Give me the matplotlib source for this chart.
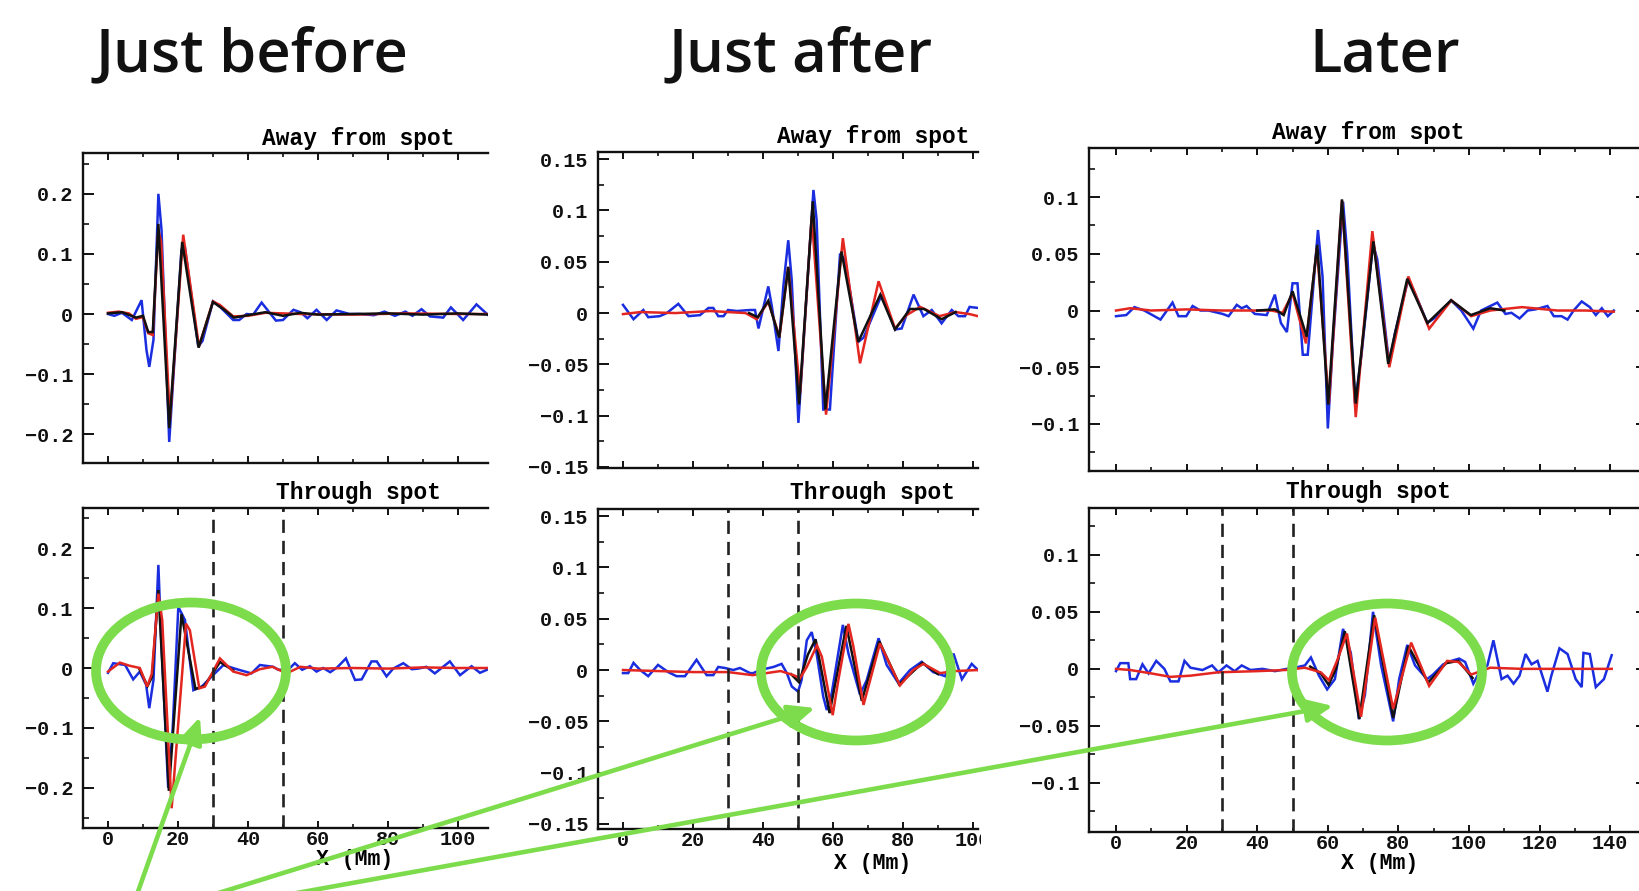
import matplotlib
matplotlib.use("Agg")
import matplotlib.pyplot as plt
from matplotlib.patches import Ellipse, Rectangle, FancyArrowPatch
from matplotlib.ticker import MultipleLocator

# ------------------------------------------------------------------ data
column_titles = ["Just before", "Just after", "Later"]
row_titles = ["Away from spot", "Through spot"]
x_label = "X (Mm)"
x_ticks_short = [0, 20, 40, 60, 80, 100]
x_tick_labels_short = ["0", "20", "40", "60", "80", "100"]
x_ticks_long = [0, 20, 40, 60, 80, 100, 120, 140]
x_tick_labels_long = ["0", "20", "40", "60", "80", "100", "120", "140"]
y_ticks_1 = [-0.2, -0.1, 0, 0.1, 0.2]
y_tick_labels_1 = ["\u22120.2", "\u22120.1", "0", "0.1", "0.2"]
y_ticks_2 = [-0.15, -0.1, -0.05, 0, 0.05, 0.1, 0.15]
y_tick_labels_2 = ["\u22120.15", "\u22120.1", "\u22120.05", "0", "0.05", "0.1", "0.15"]
y_ticks_3 = [-0.1, -0.05, 0, 0.05, 0.1]
y_tick_labels_3 = ["\u22120.1", "\u22120.05", "0", "0.05", "0.1"]
spot_edges = [30, 50]

# Panel 1 (just before), away from spot
p1a_blue_x = [0, 1.8, 4, 6.8, 9.6, 11.0, 11.8, 13.0, 14.4, 15.3, 17.5, 21.0, 22.0, 25.8, 27, 30.0, 32, 35.8,
              37.5, 39.6, 41.5, 43.9, 48.0, 50, 53.0, 55, 57.0, 59.6, 62.5, 65.3, 69.0, 72, 76, 79.0, 82,
              85.0, 87, 89.6, 92, 95.8, 98.0, 101.5, 105.3, 108.7]
p1a_blue_y = [0, -0.003, 0.002, -0.010, 0.023, -0.060, -0.088, -0.043, 0.200, 0.140, -0.213, 0.107, 0.110,
              -0.054, -0.045, 0.021, 0.012, -0.010, -0.010, 0.000, -0.001, 0.019, -0.011, -0.010, 0.007,
              0.003, -0.007, 0.007, -0.010, 0.006, 0.000, 0.000, -0.002, 0.004, -0.003, 0.004, -0.003,
              0.008, -0.004, -0.006, 0.011, -0.010, 0.016, -0.002]
p1a_red_x = [0, 3, 6, 8, 10, 11.5, 12.8, 14.4, 15.2, 17.7, 21.5, 26.0, 30.0, 32.0, 35.8, 40, 45, 55, 70,
             85, 100, 108.7]
p1a_red_y = [0.002, 0.004, 0.001, -0.008, -0.005, -0.032, -0.035, 0.140, 0.120, -0.177, 0.132, -0.054,
             0.021, 0.015, -0.004, -0.003, 0.002, 0.000, -0.001, 0.001, 0.000, 0.000]
p1a_black_x = [0, 4, 8, 10, 11.5, 12.8, 14.4, 17.5, 21.2, 25.9, 30, 33, 36, 40, 45, 50, 55, 60, 70, 80,
               90, 100, 108.7]
p1a_black_y = [0.001, 0.003, -0.006, -0.003, -0.030, -0.030, 0.150, -0.190, 0.120, -0.056, 0.020, 0.008,
               -0.006, -0.002, 0.003, -0.003, 0.002, -0.001, 0.000, 0.001, -0.001, 0.001, -0.001]

# Panel 1 (just before), through spot
p1b_blue_x = [0, 1.5, 4.9, 7.2, 9.1, 10.9, 11.8, 13.0, 14.4, 15.2, 17.2, 18.5, 20.1, 22.0, 24.4, 26.8,
              30.0, 33.0, 36.8, 41.0, 43.4, 47.2, 48.7, 51.5, 53.4, 55.5, 57.7, 59.6, 61.5, 63.5, 65.5,
              68.0, 70.6, 72.5, 75.3, 76.8, 79.6, 81.5, 84.4, 86.8, 88.7, 91.0, 93.4, 97.7, 100.6, 103.9,
              106.3, 108.7]
p1b_blue_y = [-0.008, 0.008, 0.005, -0.019, -0.006, -0.028, -0.067, -0.020, 0.172, 0.050, -0.200, -0.100,
              0.102, 0.080, -0.037, -0.031, -0.012, 0.005, -0.002, -0.009, 0.005, 0.002, -0.003, -0.003,
              0.008, -0.003, 0.003, -0.006, 0.000, -0.007, 0.001, 0.016, -0.020, -0.019, 0.011, 0.011,
              -0.014, -0.001, 0.008, -0.002, -0.001, 0.002, -0.009, 0.011, -0.012, 0.003, -0.008, -0.002]
p1b_red_x = [0, 3.4, 6, 9.1, 11.2, 12.5, 14.4, 15.5, 18.2, 22.3, 23.4, 26.1, 27.7, 30.0, 32.0, 35.8, 39.6,
             43.4, 47, 51, 55, 60, 70, 80, 90, 100, 108.7]
p1b_red_y = [-0.006, 0.009, 0.004, 0.000, -0.031, -0.010, 0.124, 0.080, -0.234, 0.074, 0.063, -0.034,
             -0.031, -0.006, 0.016, -0.006, -0.012, -0.002, 0.002, -0.009, 0.002, -0.001, 0.000, -0.001,
             0.001, 0.000, 0.000]
p1b_black_x = [9, 11.3, 12.6, 14.4, 17.4, 21, 25, 27.5, 30, 32, 35.8]
p1b_black_y = [-0.002, -0.030, -0.015, 0.130, -0.205, 0.090, -0.035, -0.030, -0.008, 0.010, -0.004]

# Panel 2 (just after), away from spot
p2a_blue_x = [0, 3, 5.8, 7.2, 10.5, 12.5, 15.8, 18.7, 22, 24.4, 25.8, 27.2, 28.7, 30.0, 32.5, 36.3, 37.7,
              38.7, 41.5, 42.5, 44.4, 45.8, 47.2, 48.2, 50.1, 52, 54.4, 55.3, 57.2, 59.1, 62.0, 63.4, 67.2,
              68.7, 73.9, 77.7, 79.6, 83.0, 85.8, 88.2, 91.0, 93.9, 95.8, 97.7, 99.0, 101.4]
p2a_blue_y = [0.008, -0.006, 0.003, -0.004, -0.003, 0.000, 0.009, -0.003, -0.002, 0.005, 0.005, -0.003,
              -0.003, 0.003, 0.002, 0.003, 0.003, -0.015, 0.026, 0.007, -0.037, 0.026, 0.071, 0.032, -0.107,
              -0.006, 0.120, 0.091, -0.094, -0.094, 0.058, 0.052, -0.028, -0.024, 0.018, -0.016, -0.015,
              0.018, -0.003, 0.003, -0.010, 0.003, -0.003, -0.003, 0.006, 0.005]
p2a_red_x = [0, 5, 15, 25, 30, 35, 38.2, 41.5, 44.7, 47.2, 50.6, 53.9, 58.0, 62.8, 67.7, 73.0, 77.7, 81,
             84.9, 90.4, 95, 99, 101.4]
p2a_red_y = [-0.001, 0.001, 0.000, 0.002, 0.001, 0.000, -0.006, 0.011, -0.023, 0.045, -0.078, 0.094,
             -0.099, 0.073, -0.049, 0.031, -0.015, -0.002, 0.006, -0.003, 0.001, -0.001, -0.003]
p2a_black_x = [36, 38.5, 41.5, 44.6, 47.2, 50.3, 54.2, 57.8, 62.4, 67.2, 73.5, 77.7, 82, 86, 91, 95]
p2a_black_y = [0.000, -0.004, 0.012, -0.024, 0.045, -0.089, 0.109, -0.094, 0.060, -0.028, 0.018, -0.016,
               0.004, 0.004, -0.006, 0.001]

# Panel 2 (just after), through spot
p2b_blue_x = [0, 1.5, 3, 4.9, 7.2, 10, 12.9, 15.3, 17.7, 21, 23.9, 25.8, 27.2, 29.1, 31.5, 33.4, 36.3, 37.2,
              39.1, 43.0, 45.3, 46.8, 48.2, 50.0, 51.0, 52.5, 53.9, 55.3, 57.2, 58.2, 59.6, 62.8, 64.4,
              67.7, 69.6, 73.0, 75.3, 78.7, 82, 85.3, 88.6, 92.0, 94.4, 96.8, 99.6, 101.4]
p2b_blue_y = [-0.003, -0.003, 0.007, 0.000, -0.006, 0.005, -0.002, -0.006, -0.006, 0.010, -0.005, -0.005,
              0.003, 0.002, 0.000, 0.002, -0.003, -0.003, 0.000, 0.003, 0.006, -0.003, -0.016, -0.021,
              -0.010, 0.029, 0.037, 0.016, -0.026, -0.039, -0.023, 0.044, 0.016, -0.024, -0.010, 0.031,
              0.005, -0.013, 0.000, 0.008, -0.002, -0.006, 0.016, -0.009, 0.006, 0.000]
p2b_red_x = [0, 10, 20, 30, 37, 45, 48.7, 50.6, 52.5, 55.4, 56.8, 59.9, 61.5, 64.4, 65.8, 68.7, 73.4, 79.1,
             82.9, 85.8, 90.6, 95, 101.4]
p2b_red_y = [0.000, -0.001, -0.002, -0.002, -0.005, -0.001, -0.005, -0.008, 0.003, 0.024, 0.013, -0.044,
             -0.010, 0.045, 0.023, -0.034, 0.026, -0.015, 0.000, 0.006, -0.003, -0.001, 0.000]
p2b_black_x = [48, 50.3, 52.8, 55, 59, 63.8, 68.2, 73.2, 78.9, 85.5, 90]
p2b_black_y = [-0.004, -0.012, 0.015, 0.030, -0.042, 0.043, -0.030, 0.028, -0.014, 0.007, -0.004]

# Panel 3 (later), away from spot
p3a_blue_x = [0, 2.9, 5.2, 8, 12.6, 16.0, 17.7, 19.9, 21.7, 23.9, 26.2, 30.2, 31.9, 34.2, 35.6, 37.0, 39.3,
              42.7, 45.0, 46.7, 48.4, 50.0, 51.4, 52.9, 54.3, 57.2, 58.5, 60.0, 61.4, 64.3, 65.5, 67.7,
              69.5, 72.8, 74, 77.4, 79, 82.8, 84.7, 88.2, 90.5, 94.9, 97.8, 101.2, 103.4, 108.0, 110.3,
              112, 114.3, 116.6, 118.8, 122.2, 124.0, 126.2, 127.9, 129.6, 131.9, 134.2, 135.9, 137.6,
              139.3, 141.0]
p3a_blue_y = [-0.005, -0.004, 0.003, 0.000, -0.008, 0.007, -0.005, -0.005, 0.004, 0.000, 0.000, -0.003,
              -0.005, 0.005, 0.002, 0.004, -0.003, -0.004, 0.014, -0.011, -0.019, 0.024, 0.024, -0.039,
              -0.039, 0.071, 0.030, -0.104, -0.030, 0.096, 0.050, -0.082, -0.040, 0.059, 0.045, -0.048,
              -0.020, 0.028, 0.015, -0.011, -0.006, 0.009, 0.000, -0.016, 0.000, 0.007, -0.003, -0.002,
              -0.007, 0.000, 0.001, 0.004, -0.005, -0.005, -0.008, 0.000, 0.008, 0.003, -0.004, 0.002,
              -0.005, 0.000]
p3a_red_x = [0, 4, 10, 20, 30, 40, 44, 47.2, 50.0, 53.8, 56.9, 60.3, 64.0, 67.9, 72.6, 77.4, 82.8, 88.7,
             95.0, 100.6, 106, 115, 125, 133, 141]
p3a_red_y = [0.000, 0.002, 0.000, 0.001, 0.000, 0.000, 0.000, -0.002, 0.015, -0.029, 0.055, -0.082, 0.097,
             -0.094, 0.070, -0.050, 0.030, -0.016, 0.009, -0.005, 0.000, 0.003, 0.000, 0.000, -0.001]
p3a_black_x = [40, 45, 47.5, 50.0, 54.0, 57.0, 60.1, 64.0, 67.9, 72.9, 77.1, 82.5, 88.2, 94.9, 100.5, 106,
               110]
p3a_black_y = [0.000, 0.001, -0.004, 0.017, -0.023, 0.058, -0.083, 0.098, -0.082, 0.061, -0.047, 0.028,
               -0.011, 0.009, -0.004, 0.002, 0.000]

# Panel 3 (later), through spot
p3b_blue_x = [0, 1.2, 3.5, 4.0, 5.7, 7.5, 9.2, 11.4, 13.7, 15.4, 17.7, 19.4, 21.1, 24.5, 27.2, 29.0, 31.3,
              33.6, 35.6, 38.1, 41.5, 45, 48.4, 50.6, 53.5, 55.2, 57.5, 59.8, 62.0, 64.3, 66.5, 68.8, 70.5,
              72.8, 75.1, 78.5, 80.2, 82.5, 84.7, 88.1, 89.8, 92.7, 95.0, 97.2, 98.9, 101.2, 102.9, 105.2,
              106.9, 109.2, 110.9, 112.6, 114.3, 116.0, 117.7, 119.4, 122.2, 123.3, 125.6, 127.9, 130.2,
              131.9, 132.4, 134.2, 135.9, 138.2, 140.4]
p3b_blue_y = [-0.002, 0.005, 0.005, -0.009, -0.009, 0.004, -0.004, 0.007, 0.000, -0.011, -0.011, 0.007,
              0.001, -0.001, 0.003, -0.003, 0.003, -0.002, 0.003, -0.001, 0.000, -0.002, 0.000, 0.001,
              0.003, 0.010, -0.006, -0.018, -0.009, 0.035, 0.014, -0.044, -0.023, 0.050, 0.003, -0.046,
              -0.009, 0.021, 0.003, -0.009, -0.005, 0.004, 0.007, 0.009, 0.006, -0.013, -0.003, 0.003,
              0.025, -0.009, -0.006, -0.013, -0.006, 0.013, 0.004, 0.007, -0.020, -0.006, 0.018, 0.013,
              -0.009, -0.016, 0.014, 0.013, -0.016, -0.009, 0.012]
p3b_red_x = [0, 4, 10, 15.4, 21, 29, 40, 48, 53.5, 58.0, 60.3, 62.6, 65.4, 69.4, 73.4, 78.5, 83.6, 88.7,
             93.8, 97, 100.6, 106, 115, 125, 140.4]
p3b_red_y = [0.000, -0.001, -0.004, -0.007, -0.006, -0.003, -0.002, -0.001, 0.001, -0.003, -0.010, 0.007,
             0.031, -0.042, 0.045, -0.035, 0.023, -0.015, 0.007, 0.006, -0.005, 0.001, 0.000, 0.000, 0.000]
p3b_black_x = [55, 58, 60.2, 62.3, 64.8, 68.9, 73.1, 78.5, 82.8, 88.4, 93.5, 97, 101]
p3b_black_y = [0.002, -0.004, -0.014, 0.000, 0.033, -0.044, 0.047, -0.043, 0.020, -0.012, 0.005, 0.007,
               -0.008]

# ------------------------------------------------------------------ layout
W, H = 1639, 891
BLUE, RED, BLACK, GREEN = "#1a2ee0", "#e3261f", "#111111", "#7ddc4b"
MONO = "Liberation Mono"

fig = plt.figure(figsize=(W / 100, H / 100), dpi=100)
fig.patch.set_facecolor("white")


def px_box(l, r, t, b):
    return [l / W, 1 - b / H, (r - l) / W, (b - t) / H]


def fpt(x, y):
    return (x / W, 1 - y / H)


panels = [
    dict(box=(83, 488, 153, 463), xlim=(-7.14, 108.6), ylim=(-0.248, 0.268), yt=y_ticks_1, ytl=y_tick_labels_1,
         ymin=0.05, xt=x_ticks_short, xtl=x_tick_labels_short, bottom=False, right=False,
         series=[(p1a_blue_x, p1a_blue_y, BLUE), (p1a_red_x, p1a_red_y, RED), (p1a_black_x, p1a_black_y, BLACK)]),
    dict(box=(83, 488, 508, 828), xlim=(-7.14, 108.6), ylim=(-0.267, 0.267), yt=y_ticks_1, ytl=y_tick_labels_1,
         ymin=0.05, xt=x_ticks_short, xtl=x_tick_labels_short, bottom=True, right=False,
         series=[(p1b_blue_x, p1b_blue_y, BLUE), (p1b_black_x, p1b_black_y, BLACK), (p1b_red_x, p1b_red_y, RED)]),
    dict(box=(598, 978, 152, 468), xlim=(-7.14, 101.4), ylim=(-0.151, 0.157), yt=y_ticks_2, ytl=y_tick_labels_2,
         ymin=0.025, xt=x_ticks_short, xtl=x_tick_labels_short, bottom=False, right=False,
         series=[(p2a_blue_x, p2a_blue_y, BLUE), (p2a_red_x, p2a_red_y, RED), (p2a_black_x, p2a_black_y, BLACK)]),
    dict(box=(598, 978, 509, 829), xlim=(-7.14, 101.4), ylim=(-0.155, 0.157), yt=y_ticks_2, ytl=y_tick_labels_2,
         ymin=0.025, xt=x_ticks_short, xtl=x_tick_labels_short, bottom=True, right=False,
         series=[(p2b_blue_x, p2b_blue_y, BLUE), (p2b_black_x, p2b_black_y, BLACK), (p2b_red_x, p2b_red_y, RED)]),
    dict(box=(1089, 1647, 148, 471), xlim=(-7.65, 150.4), ylim=(-0.1415, 0.1433), yt=y_ticks_3, ytl=y_tick_labels_3,
         ymin=0.025, xt=x_ticks_long, xtl=x_tick_labels_long, bottom=False, right=True,
         series=[(p3a_blue_x, p3a_blue_y, BLUE), (p3a_red_x, p3a_red_y, RED), (p3a_black_x, p3a_black_y, BLACK)]),
    dict(box=(1089, 1647, 508, 832), xlim=(-7.65, 150.4), ylim=(-0.143, 0.141), yt=y_ticks_3, ytl=y_tick_labels_3,
         ymin=0.025, xt=x_ticks_long, xtl=x_tick_labels_long, bottom=True, right=True,
         series=[(p3b_blue_x, p3b_blue_y, BLUE), (p3b_black_x, p3b_black_y, BLACK), (p3b_red_x, p3b_red_y, RED)]),
]

for p in panels:
    ax = fig.add_axes(px_box(*p["box"]))
    for xs, ys, c in p["series"]:
        ax.plot(xs, ys, color=c, lw=1.8, solid_joinstyle="miter")
    if p["bottom"]:
        for xv in spot_edges:
            ax.axvline(xv, color="#222222", lw=1.9, dashes=(5, 3))
    ax.set_xlim(*p["xlim"])
    ax.set_ylim(*p["ylim"])
    ax.set_xticks(p["xt"])
    ax.set_xticklabels(p["xtl"] if p["bottom"] else [])
    ax.xaxis.set_minor_locator(MultipleLocator(10))
    ax.set_yticks(p["yt"])
    ax.set_yticklabels(p["ytl"])
    ax.yaxis.set_minor_locator(MultipleLocator(p["ymin"]))
    ax.tick_params(which="both", direction="in", top=True, right=p["right"], colors="#111111")
    ax.xaxis.set_tick_params(which="major", length=5, width=1.4, pad=1.5)
    ax.xaxis.set_tick_params(which="minor", length=3, width=1.2)
    ax.yaxis.set_tick_params(which="major", length=8, width=1.4, pad=7)
    ax.yaxis.set_tick_params(which="minor", length=4, width=1.2)
    if not p["right"]:
        ax.spines["right"].set_visible(False)
    for sp in ax.spines.values():
        sp.set_linewidth(1.7)
        sp.set_color("#111111")
    for lab in ax.get_xticklabels() + ax.get_yticklabels():
        lab.set_fontfamily(MONO)
        lab.set_fontweight("bold")
        lab.set_fontsize(14.5)

# column titles
for txt, cx in zip(column_titles, [252, 801, 1385]):
    fig.text(*fpt(cx, 71), txt, ha="center", va="baseline", family="Open Sans", weight="semibold",
             fontsize=43, color="#111111")

# row titles above each panel
for (cx, ya, yb) in [(358, 138, 492), (873, 136, 492), (1368, 132, 491)]:
    fig.text(*fpt(cx, ya), row_titles[0], ha="center", va="center", family=MONO, weight="bold", fontsize=16.5)
    fig.text(*fpt(cx, yb), row_titles[1], ha="center", va="center", family=MONO, weight="bold", fontsize=16.5)

# x axis labels
for cx, cy in [(355, 860), (873, 863), (1380, 863)]:
    fig.text(*fpt(cx, cy), x_label, ha="center", va="center", family=MONO, weight="bold", fontsize=15.5)

# crop of the middle picture (its right edge cuts the last tick label)
fig.add_artist(Rectangle(fpt(981, 850), 25 / W, 28 / H, transform=fig.transFigure,
                         facecolor="white", edgecolor="none", zorder=5))

# green annotations
for cx, cy in [(191, 671), (856, 672), (1387, 672)]:
    fig.add_artist(Ellipse(fpt(cx, cy), 190 / W, 137 / H, transform=fig.transFigure, fill=False,
                           edgecolor=GREEN, lw=7, zorder=10))
for (x0, y0), (x1, y1) in [((135, 900), (200, 717)), ((196, 900), (815, 708)), ((258, 900), (1333, 706))]:
    fig.add_artist(FancyArrowPatch(fpt(x0, y0), fpt(x1, y1), transform=fig.transFigure,
                                   arrowstyle="-|>,head_length=16,head_width=7", mutation_scale=1,
                                   shrinkA=0, shrinkB=0, lw=3.3, color=GREEN, zorder=11))

fig.savefig("out.png", dpi=100, facecolor="white")
